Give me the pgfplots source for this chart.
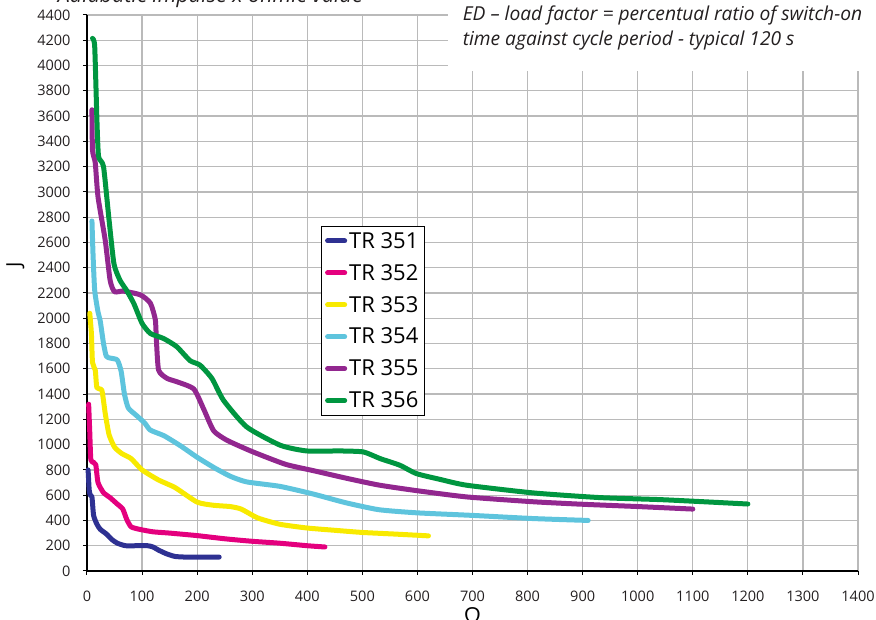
\documentclass[border=0pt]{standalone}
\usepackage{fontspec}
\setmainfont{Open Sans}
\usepackage{pgfplots}
\pgfplotsset{compat=1.18}
\definecolor{c351}{RGB}{46,49,146}
\definecolor{c352}{RGB}{228,0,126}
\definecolor{c353}{RGB}{248,234,0}
\definecolor{c354}{RGB}{94,196,221}
\definecolor{c355}{RGB}{146,39,143}
\definecolor{c356}{RGB}{0,150,64}
\definecolor{txt}{RGB}{35,31,32}
\begin{document}
\begin{tikzpicture}
\clip (-87pt,-49pt) rectangle (789pt,571pt);
\begin{axis}[
    scale only axis,
    width=771pt, height=556pt,
    xmin=0, xmax=1400, ymin=0, ymax=4400,
    xtick distance=100, ytick distance=200,
    axis x line*=bottom, axis y line*=left,
    axis line style={black, line width=1.5pt, -},
    grid=major,
    grid style={black!27, line width=1.2pt},
    tick align=outside,
    major tick length=4pt,
    tick style={black, line width=1pt},
    ticklabel style={font=\fontsize{14.5}{16}\selectfont, text=txt},
    /pgf/number format/assume math mode=true,
    /pgf/number format/set thousands separator={},
    xticklabel style={yshift=-12pt},
    yticklabel style={xshift=-9pt},
    xlabel={Ω}, ylabel={J},
    xlabel style={at={(axis description cs:0.5,-0.066)}, anchor=north, inner sep=0pt, font=\fontsize{22}{24}\selectfont},
    ylabel style={at={(axis description cs:-0.093,0.55)}, anchor=center, inner sep=0pt, font=\fontsize{20}{22}\selectfont},
    legend style={at={(0.303,0.621)}, anchor=north west, draw=black, line width=1pt,
        font=\fontsize{22}{24}\selectfont, legend cell align=left, row sep=10.5pt,
        inner xsep=4pt, inner ysep=4pt},
    every axis plot/.append style={line width=5pt, line cap=round, line join=round, smooth, tension=0.35},
    clip=false,
]
% white box behind the note
\fill[white] (axis cs:655,3956) rectangle (axis cs:1500,4600);

\addplot[c351] coordinates {(2,800) (4,640) (6,600) (9,585) (12,440) (18,370) (24,330) (30,310) (36,290) (45,250) (55,220) (70,200) (90,200) (110,200) (120,190) (130,165) (145,135) (160,115) (180,110) (210,110) (240,110)};
\addlegendentry{TR 351}
\addplot[c352] coordinates {(3,1320) (5,1100) (7,880) (12,860) (16,840) (20,700) (30,620) (42,580) (55,530) (65,490) (72,410) (80,350) (95,330) (120,310) (150,300) (200,280) (250,255) (300,235) (350,220) (400,200) (432,190)};
\addlegendentry{TR 352}
\addplot[c353] coordinates {(5,2040) (8,1880) (10,1650) (15,1590) (18,1450) (27,1430) (33,1250) (40,1080) (50,980) (63,930) (80,890) (100,800) (130,720) (160,660) (200,545) (230,520) (260,510) (280,490) (310,420) (350,370) (400,340) (450,322) (500,305) (560,292) (620,278)};
\addlegendentry{TR 353}
\addplot[c354] coordinates {(9,2770) (11,2500) (14,2220) (20,2050) (24,1980) (30,1800) (35,1700) (42,1685) (55,1670) (62,1580) (68,1400) (75,1290) (90,1230) (105,1170) (115,1115) (140,1070) (170,990) (200,900) (230,820) (260,750) (290,705) (350,670) (410,610) (470,540) (530,485) (600,460) (700,440) (810,415) (910,400)};
\addlegendentry{TR 354}
\addplot[c355] coordinates {(9,3650) (10,3330) (15,3230) (20,2960) (33,2620) (42,2300) (50,2210) (66,2215) (97,2185) (115,2120) (124,1990) (126,1830) (130,1590) (145,1525) (165,1495) (194,1440) (212,1280) (230,1110) (254,1035) (300,945) (360,845) (410,795) (470,735) (530,680) (600,635) (690,586) (810,548) (900,528) (1000,510) (1100,490)};
\addlegendentry{TR 355}
\addplot[c356] coordinates {(10,4215) (14,4150) (18,3570) (21,3280) (30,3200) (40,2780) (49,2430) (60,2300) (72,2220) (85,2117) (100,1960) (115,1880) (139,1840) (163,1775) (187,1665) (205,1630) (227,1523) (248,1350) (290,1140) (351,995) (399,950) (460,950) (502,942) (532,890) (568,837) (598,771) (641,725) (689,679) (810,618) (931,581) (1040,565) (1120,548) (1200,530)};
\addlegendentry{TR 356}

\node[anchor=base, font=\itshape\fontsize{21.5}{24}\selectfont, text=txt] at (axis cs:224,4495) {Adiabatic impulse x ohmic value};
\node[anchor=base west, inner sep=0pt, font=\itshape\fontsize{19.2}{24}\selectfont, text=txt] at (axis cs:682,4360) {ED – load factor = percentual ratio of switch-on};
\node[anchor=base west, inner sep=0pt, font=\itshape\fontsize{19.2}{24}\selectfont, text=txt] at (axis cs:682,4162) {time against cycle period - typical 120 s};
\end{axis}
\end{tikzpicture}
\end{document}
